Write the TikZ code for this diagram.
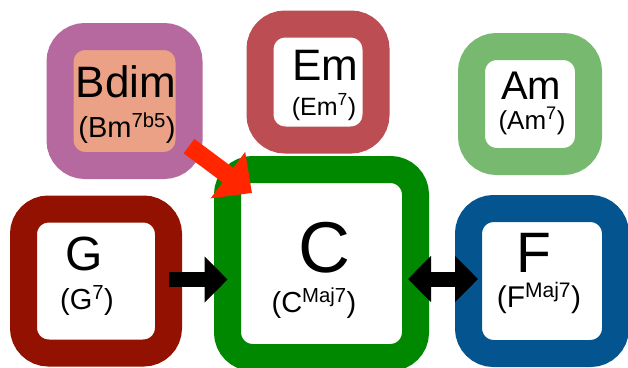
\documentclass[tikz,border=0pt]{standalone}
\usepackage{fontspec}
\setmainfont{Liberation Sans}
\usetikzlibrary{arrows.meta}
\definecolor{bdimc}{HTML}{B5699E}
\definecolor{bdimin}{HTML}{EBA185}
\definecolor{emc}{HTML}{BC4E53}
\definecolor{amc}{HTML}{77B96E}
\definecolor{gc}{HTML}{931100}
\definecolor{cc}{HTML}{008900}
\definecolor{fc}{HTML}{04558F}
\definecolor{redarrow}{HTML}{FF2600}
\tikzset{
  chordbox/.style={draw=#1, line width=27pt, rounded corners=25pt, fill=white, inner sep=0pt, outer sep=0pt},
  mainlbl/.style={anchor=base, inner sep=0pt, font=\fontsize{#1}{#1}\selectfont},
  sublbl/.style={anchor=base, inner sep=0pt, font=\fontsize{#1}{#1}\selectfont},
  blackarrow/.style={draw=black, line width=15pt, -{Triangle[length=23pt,width=45pt]}},
  blackdouble/.style={draw=black, line width=15pt, {Triangle[length=23pt,width=45pt]}-{Triangle[length=23pt,width=45pt]}},
  redarr/.style={draw=redarrow, line width=18pt, -{Triangle[length=30pt,width=56pt]}}
}
\begin{document}
\begin{tikzpicture}[x=1pt,y=-1pt]
\useasboundingbox (0,0) rectangle (628,367);
% boxes
\node[chordbox=bdimc, fill=bdimin, minimum width=129pt, minimum height=129pt] (Bdim) at (124.5,101) {};
\node[chordbox=emc, minimum width=116pt, minimum height=116pt] (Em) at (318,82) {};
\node[chordbox=amc, minimum width=117pt, minimum height=115pt] (Am) at (530,104) {};
\node[chordbox=gc, minimum width=145pt, minimum height=144pt] (G) at (96,281) {};
\node[chordbox=cc, minimum width=188pt, minimum height=188pt] (C) at (321.5,263.5) {};
\node[chordbox=fc, minimum width=147pt, minimum height=145pt] (F) at (542,281) {};
% labels
\node[mainlbl=44] (BdimT) at (126,97) {Bdim};
\node[sublbl=29] (BdimS) at (127,137) {(Bm\textsuperscript{7b5})};
\node[mainlbl=44] (EmT) at (325,80) {Em};
\node[sublbl=25] (EmS) at (324,115) {(Em\textsuperscript{7})};
\node[mainlbl=40] (AmT) at (531,99) {Am};
\node[sublbl=26] (AmS) at (532,129) {(Am\textsuperscript{7})};
\node[mainlbl=48] (GT) at (84,270) {G};
\node[sublbl=29] (GS) at (87,309) {(G\textsuperscript{7})};
\node[mainlbl=72] (CT) at (324,272) {C};
\node[sublbl=29] (CS) at (314,312) {(C\textsuperscript{Maj7})};
\node[mainlbl=57] (FT) at (534,272) {F};
\node[sublbl=30] (FS) at (539,307) {(F\textsuperscript{Maj7})};
% connectors
\coordinate (rtip) at (252,193);
\draw[redarr] (Bdim.-35) -- (rtip);
\draw[blackarrow] ([yshift=1.5pt]G.east) -- ([yshift=1.5pt]G.east -| C.west);
\draw[blackdouble] ([xshift=-7.5pt,yshift=2pt]C.east |- F.west) -- ([xshift=9.5pt,yshift=2pt]F.west);
\end{tikzpicture}
\end{document}
